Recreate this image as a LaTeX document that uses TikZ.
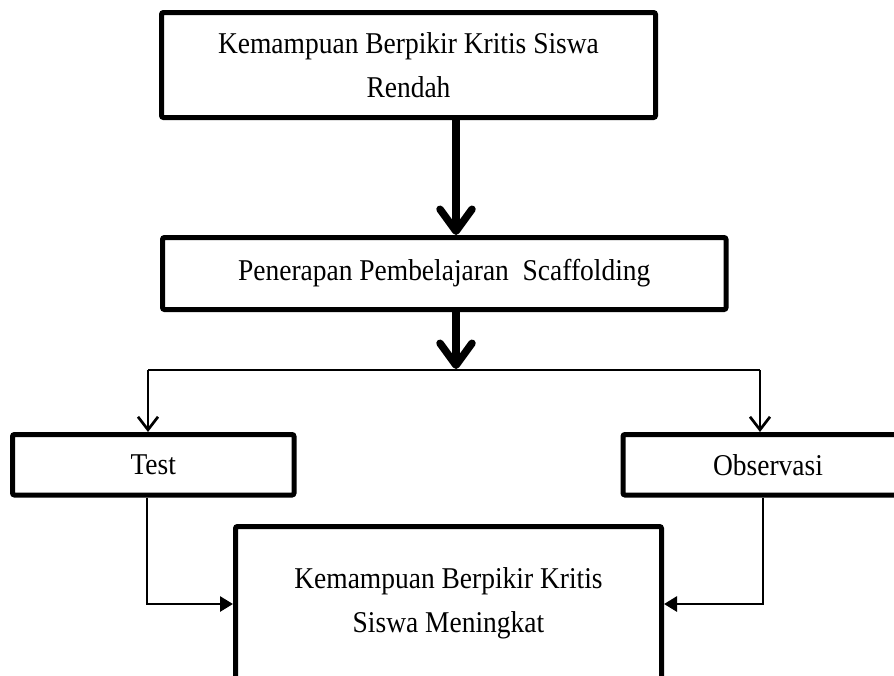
\documentclass[tikz,border=0pt]{standalone}
\usepackage{fontspec}
\setmainfont{Liberation Serif}[FakeStretch=0.91]
\usetikzlibrary{arrows.meta}
\begin{document}
\begin{tikzpicture}[x=0.5pt,y=-0.5pt,
  box/.style={draw, line width=2.5pt, rounded corners=1pt, inner sep=0pt, align=center,
    font=\fontsize{15.1pt}{22pt}\selectfont},
  thickarrow/.style={line width=3.75pt, line cap=round,
    -{Straight Barb[round, length=11pt, width=16pt]}},
  thinline/.style={line width=1.35pt},
  openarrow/.style={line width=1.35pt, -{Straight Barb[length=6.5pt, width=10pt]}},
  triarrow/.style={line width=1.4pt, -{Triangle[length=6.5pt, width=7.5pt]}}
]
\useasboundingbox (0,0) rectangle (894,675);
\clip (0,0) rectangle (894,675);
\fill[white] (0,0) rectangle (894,675);

\node[box, minimum width=247pt, minimum height=52.5pt] (top) at (408.5,65)
  {Kemampuan Berpikir Kritis Siswa\\Rendah};
\node[box, minimum width=281.75pt, minimum height=36pt] (mid) at (444.25,273.5)
  {Penerapan Pembelajaran \ Scaffolding};
\node[box, minimum width=140.75pt, minimum height=30.25pt] (test) at (153.25,464.75)
  {Test};
\node[box, minimum width=145pt, minimum height=30.25pt] (obs) at (768,464.75)
  {Observasi};
\node[box, minimum width=213pt, minimum height=76.5pt] (res) at (448.5,603)
  {Kemampuan Berpikir Kritis\\Siswa Meningkat};

\coordinate (ax) at (456,0);
\coordinate (hl) at (148,370);
\coordinate (hm) at (456,369);
\coordinate (hr) at (760,370);
\coordinate (bl) at (147,604);
\coordinate (br) at (763,604);

\draw[thickarrow] (top.south -| ax) -- (mid.north -| ax);
\draw[thickarrow] (mid.south -| ax) -- (hm);

\draw[thinline] (hl) -- (hr);
\draw[openarrow] (hl) -- (hl |- test.north);
\draw[openarrow] (hr) -- (hr |- obs.north);

\draw[triarrow] (test.south -| bl) -- (bl) -- (bl -| res.west);
\draw[triarrow] (obs.south -| br) -- (br) -- (br -| res.east);
\end{tikzpicture}
\end{document}
